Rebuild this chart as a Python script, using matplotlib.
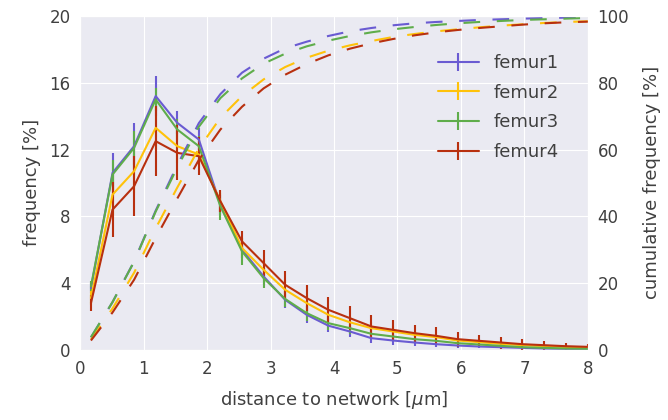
import numpy as np
import matplotlib
matplotlib.use("Agg")
import matplotlib.pyplot as plt
import seaborn as sns

sns.set_style("darkgrid")
plt.rcParams['font.family'] = ['DejaVu Sans']

distance = [0.17, 0.51, 0.85, 1.19, 1.53, 1.87, 2.21, 2.55, 2.89, 3.23, 3.57, 3.91,
            4.25, 4.59, 4.93, 5.27, 5.61, 5.95, 6.29, 6.63, 6.97, 7.31, 7.65, 8.0]

labels = ["femur1", "femur2", "femur3", "femur4"]
colors = ["#6a5bd2", "#ffc20a", "#5fad4b", "#b8300f"]

freq_f1 = [3.7, 10.6, 12.2, 15.2, 13.6, 12.6, 8.7, 6.0, 4.4, 3.0, 2.1, 1.45,
           1.1, 0.7, 0.56, 0.44, 0.34, 0.26, 0.2, 0.16, 0.12, 0.08, 0.06, 0.04]
freq_f2 = [3.1, 9.3, 10.7, 13.3, 12.2, 11.7, 8.9, 6.1, 4.8, 3.6, 2.8, 2.1,
           1.65, 1.3, 1.1, 0.9, 0.76, 0.56, 0.46, 0.36, 0.28, 0.22, 0.16, 0.12]
freq_f3 = [3.8, 10.5, 12.1, 15.0, 13.2, 12.2, 8.6, 5.9, 4.3, 3.05, 2.2, 1.6,
           1.3, 0.96, 0.8, 0.64, 0.54, 0.4, 0.32, 0.24, 0.16, 0.12, 0.08, 0.06]
freq_f4 = [2.8, 8.4, 9.8, 12.5, 11.8, 11.6, 8.9, 6.5, 5.2, 3.9, 3.1, 2.4,
           1.9, 1.4, 1.2, 1.0, 0.84, 0.64, 0.54, 0.44, 0.34, 0.28, 0.22, 0.18]

err_f1 = [0.3, 1.2, 1.4, 1.2, 0.7, 0.7, 0.6, 0.5, 0.5, 0.5, 0.5, 0.4,
          0.35, 0.3, 0.25, 0.2, 0.15, 0.12, 0.1, 0.08, 0.06, 0.05, 0.04, 0.03]
err_f2 = [0.4, 1.2, 1.3, 1.3, 1.0, 0.8, 0.6, 0.6, 0.6, 0.6, 0.5, 0.45,
          0.4, 0.35, 0.3, 0.25, 0.2, 0.18, 0.15, 0.12, 0.1, 0.1, 0.08, 0.08]
err_f3 = [0.3, 0.9, 1.0, 0.7, 0.6, 0.6, 0.8, 0.8, 0.6, 0.5, 0.45, 0.4,
          0.35, 0.3, 0.25, 0.2, 0.15, 0.12, 0.1, 0.08, 0.06, 0.05, 0.04, 0.03]
err_f4 = [0.5, 1.65, 1.8, 2.1, 1.65, 1.15, 0.65, 0.6, 0.8, 0.85, 0.8, 0.75,
          0.7, 0.7, 0.6, 0.5, 0.5, 0.45, 0.36, 0.36, 0.32, 0.28, 0.22, 0.2]

cum_f1 = [3.7, 14.3, 26.5, 41.7, 55.3, 67.9, 76.6, 83.0, 87.2, 90.3, 92.3, 94.0,
          95.4, 96.4, 97.2, 97.8, 98.2, 98.5, 98.8, 99.0, 99.2, 99.35, 99.5, 99.6]
cum_f2 = [3.1, 12.4, 23.1, 36.4, 48.6, 60.3, 69.5, 76.0, 81.0, 84.7, 87.5, 89.6,
          91.2, 92.5, 93.7, 94.6, 95.4, 96.0, 96.6, 97.1, 97.5, 97.9, 98.2, 98.4]
cum_f3 = [3.8, 14.3, 26.4, 41.4, 54.6, 66.8, 75.4, 81.3, 85.7, 88.7, 90.9, 92.6,
          94.0, 95.1, 96.0, 96.7, 97.3, 97.8, 98.2, 98.5, 98.8, 99.0, 99.2, 99.4]
cum_f4 = [2.8, 11.2, 21.0, 33.5, 45.3, 56.9, 66.0, 72.8, 78.3, 82.4, 85.6, 88.2,
          90.2, 91.8, 93.1, 94.2, 95.1, 95.8, 96.4, 96.9, 97.4, 97.8, 98.1, 98.3]

freqs = [freq_f1, freq_f2, freq_f3, freq_f4]
errs = [err_f1, err_f2, err_f3, err_f4]
cums = [cum_f1, cum_f2, cum_f3, cum_f4]

fig, ax = plt.subplots(figsize=(6.68, 4.2), dpi=100)
fig.subplots_adjust(left=0.12, right=0.88, top=0.962, bottom=0.167)
ax2 = ax.twinx()

for f, e, c, lab, col in zip(freqs, errs, cums, labels, colors):
    ax.errorbar(distance, f, yerr=e, color=col, lw=1.5, elinewidth=1.5,
                capsize=0, label=lab)
    ax2.plot(distance, c, color=col, lw=1.5, dashes=(8, 8))

ax.set_xlim(0, 8)
ax.set_ylim(0, 20)
ax.set_xticks(np.arange(0, 9, 1))
ax.set_yticks(np.arange(0, 21, 4))
ax2.set_ylim(0, 100)
ax2.set_yticks(np.arange(0, 101, 20))
ax2.grid(False)

txt = "#404040"
ax.tick_params(labelsize=12, colors=txt, length=0, pad=7)
ax2.tick_params(labelsize=12, colors=txt, length=0, pad=7)
ax.set_xlabel(r"distance to network [$\mu$m]", fontsize=13, color=txt, labelpad=8)
ax.set_ylabel("frequency [%]", fontsize=13, color=txt, labelpad=6)
ax2.set_ylabel("cumulative frequency [%]", fontsize=13, color=txt, labelpad=10)

leg = ax.legend(loc="upper right", bbox_to_anchor=(0.975, 0.935), frameon=False,
                fontsize=13, handlelength=2.3, labelspacing=0.645)
for t in leg.get_texts():
    t.set_color(txt)

fig.savefig("out.png", dpi=100)
